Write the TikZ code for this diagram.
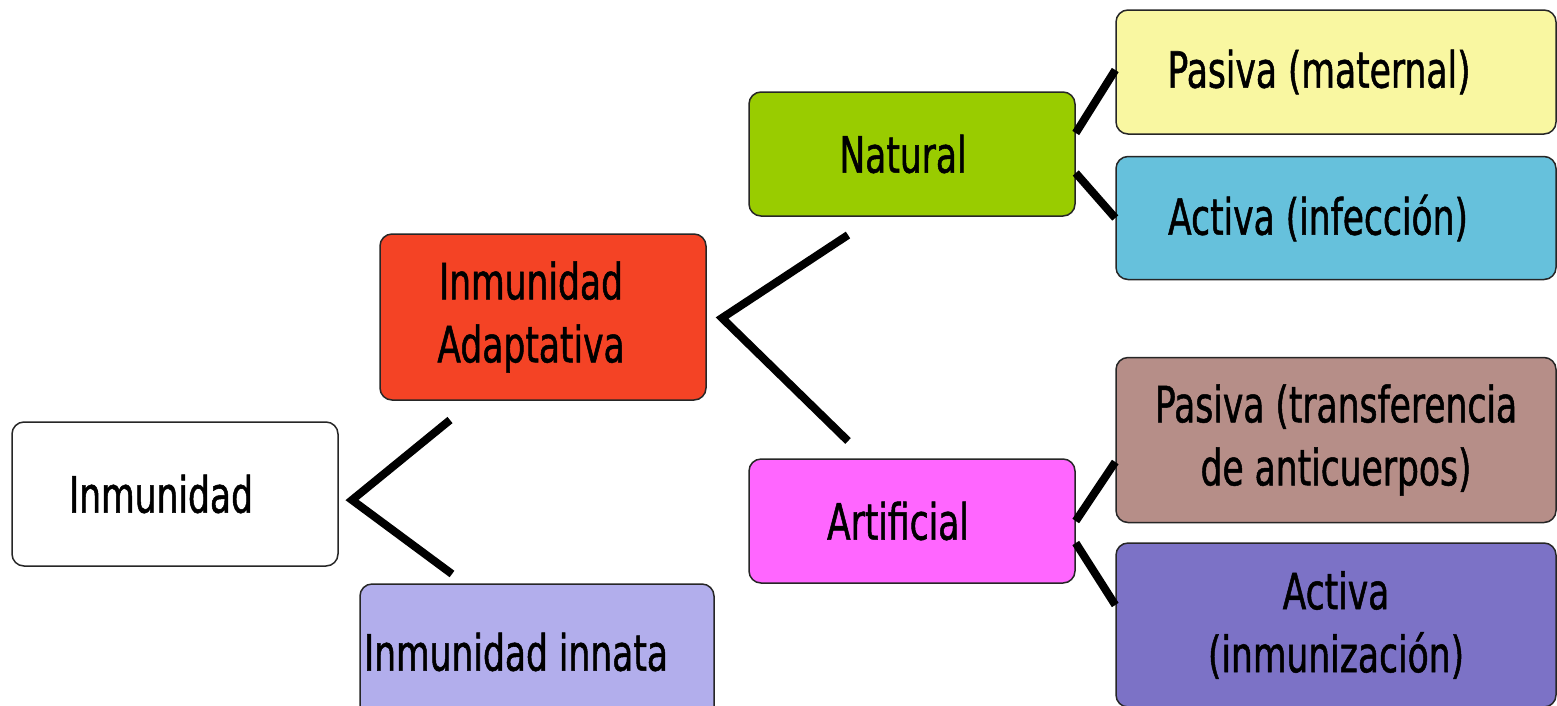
\documentclass[tikz,border=0pt]{standalone}
\usepackage{fontspec}
\setmainfont{DejaVu Sans}[FakeStretch=0.69, FakeBold=1]
\usetikzlibrary{positioning}

\definecolor{blanco}{HTML}{FFFFFF}
\definecolor{lila}{HTML}{B2AEEC}
\definecolor{rojo}{HTML}{F44325}
\definecolor{verde}{HTML}{99CC00}
\definecolor{magenta}{HTML}{FF66FF}
\definecolor{amarillo}{HTML}{F9F7A1}
\definecolor{celeste}{HTML}{66C1DC}
\definecolor{marron}{HTML}{B68E88}
\definecolor{morado}{HTML}{7C72C6}

\tikzset{
	caja/.style={draw=black!85, line width=1.5pt, rounded corners=12pt, inner sep=0pt,
		align=center, font=\fontsize{50}{63}\selectfont},
	rama/.style={line width=8pt, black}
}

\begin{document}
\begin{tikzpicture}[x=1pt, y=-1pt]
	\useasboundingbox[fill=white] (0,0) rectangle (1557,705);

	\node[caja, fill=blanco, minimum width=326pt, minimum height=144pt]	(inm)	at (175,494)	{Inmunidad\hspace*{28pt}};
	\node[caja, fill=lila, minimum height=136pt, text width=346pt, inner xsep=4pt, align=flush left]	(inn)	at (537,652)	{Inmunidad innata};
	\node[caja, fill=rojo, minimum width=326pt, minimum height=166pt]	(ada)	at (543,317)	{Inmunidad\hspace*{24pt}\\Adaptativa\hspace*{24pt}};
	\node[caja, fill=verde, minimum width=326pt, minimum height=124pt]	(nat)	at (912,154)	{Natural\hspace*{18pt}};
	\node[caja, fill=magenta, minimum width=326pt, minimum height=124pt]	(art)	at (912,521)	{Artificial\hspace*{28pt}};
	\node[caja, fill=amarillo, minimum width=440pt, minimum height=124pt]	(pm)	at (1336,72)	{Pasiva (maternal)\hspace*{34pt}};
	\node[caja, fill=celeste, minimum width=440pt, minimum height=123pt, below=21pt of pm]	(ai)	{Activa (infección)\hspace*{36pt}};
	\node[caja, fill=marron, minimum width=440pt, minimum height=165pt]	(pt)	at (1336,440)	{Pasiva (transferencia\\de anticuerpos)};
	\node[caja, fill=morado, minimum width=440pt, minimum height=164pt, below=19pt of pt]	(ain)	{Activa\\(inmunización)};

	% llaves
	\coordinate	(i1)	at (450,420);
	\coordinate	(i2)	at (352,500);
	\coordinate	(i3)	at (452,574);
	\coordinate	(a1)	at (848,235);
	\coordinate	(a2)	at (722,318);
	\coordinate	(a3)	at (848,441);

	\draw[rama]	(i1) -- (i2) -- (i3);
	\draw[rama]	(a1) -- (a2) -- (a3);

	\draw[rama]	([yshift=21pt]nat.east) -- ([yshift=2pt]pm.west);
	\draw[rama]	([yshift=-19pt]nat.east) -- (ai.west);
	\draw[rama]	(art.east) -- ([yshift=-22pt]pt.west);
	\draw[rama]	([yshift=-22pt]art.east) -- ([yshift=20pt]ain.west);

\end{tikzpicture}
\end{document}
